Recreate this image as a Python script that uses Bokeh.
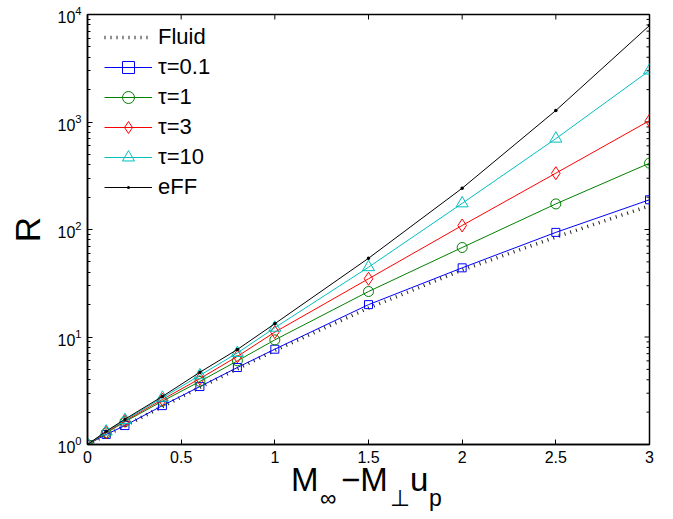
from bokeh.plotting import figure
from bokeh.models import Legend, LegendItem, FixedTicker, LogTicker, Div
from bokeh.layouts import column
from bokeh.embed import file_html
from bokeh.resources import INLINE

# ---- data ----
x_vals = [0, 0.1, 0.2, 0.4, 0.6, 0.8, 1.0, 1.5, 2.0, 2.5, 3.0]
fluid = [1, 1.22, 1.49, 2.25, 3.4, 5.05, 7.5, 18.6, 42, 85, 166]
tau_01 = [1, 1.24, 1.5, 2.3, 3.46, 5.2, 7.7, 20, 44, 94, 189]
tau_1 = [1, 1.28, 1.63, 2.53, 3.86, 6.0, 9.4, 26.5, 68, 173, 414]
tau_3 = [1, 1.3, 1.66, 2.62, 4.1, 6.6, 11.1, 34.8, 109, 334, 1030]
tau_10 = [1, 1.32, 1.69, 2.72, 4.4, 7.1, 12.2, 44.6, 175, 700, 3010]
eff = [1, 1.33, 1.72, 2.8, 4.7, 7.65, 13.3, 54, 242, 1280, 7900]

series_labels = ["Fluid", "τ=0.1", "τ=1", "τ=3", "τ=10", "eFF"]
x_ticks = [0, 0.5, 1, 1.5, 2, 2.5, 3]
x_tick_labels = ["0", "0.5", "1", "1.5", "2", "2.5", "3"]
y_major = [1, 10, 100, 1000, 10000]
y_minor = [m * d for d in [1, 10, 100, 1000] for m in range(2, 10)]
y_title = "R"
# x title pieces: (text, is_subscript)
x_title = [("M", False), ("∞", True), ("−M", False), ("⊥", True), ("u", False), ("p", True)]

FONT = "Liberation Sans"
W, H = 673, 519
FL, FR, FT, FB = 87, 649, 14, 444   # frame edges in page pixels
PH = 470                            # figure height; the x title sits below it

p = figure(width=W, height=PH, x_range=(0, 3), y_range=(1, 1e4),
           y_axis_type="log", output_backend="svg", toolbar_location=None,
           min_border_left=FL, min_border_right=W - FR, min_border_top=FT,
           min_border_bottom=PH - FB)
p.grid.visible = False
p.outline_line_color = "black"
p.outline_line_width = 1.5
p.background_fill_color = "white"
p.border_fill_color = "white"

for ax in [p.xaxis[0], p.yaxis[0]]:
    ax.axis_line_width = 1.5
    ax.axis_line_color = "black"
    ax.major_tick_line_color = "black"
    ax.major_tick_in = 5
    ax.major_tick_out = 0
    ax.minor_tick_in = 3
    ax.minor_tick_out = 0
    ax.major_label_text_font = FONT
    ax.major_label_text_font_size = "16px"
    ax.major_label_text_color = "black"

p.xaxis[0].axis_label = None
p.xaxis[0].ticker = FixedTicker(ticks=x_ticks)
p.xaxis[0].major_label_overrides = dict(zip(x_ticks, x_tick_labels))
p.xaxis[0].minor_tick_line_color = None
p.xaxis[0].major_label_standoff = 6
p.yaxis[0].ticker = LogTicker(num_minor_ticks=10)
p.yaxis[0].major_label_standoff = 6
p.yaxis[0].axis_label = y_title
p.yaxis[0].axis_label_text_font = FONT
p.yaxis[0].axis_label_text_font_size = "35px"
p.yaxis[0].axis_label_text_font_style = "normal"
p.yaxis[0].axis_label_text_color = "black"
p.yaxis[0].axis_label_standoff = 7

# inward ticks on the top and right edges (half of each dash is clipped by the frame)
p.scatter(x_ticks, [1e4] * len(x_ticks), marker="dash", angle=1.5708, size=10,
          line_color="black", line_width=1)
p.scatter([3] * len(y_major), y_major, marker="dash", size=10,
          line_color="black", line_width=1)
p.scatter([3] * len(y_minor), y_minor, marker="dash", size=6,
          line_color="black", line_width=1)

# fluid line (dotted)
r_fluid = p.line(x_vals, fluid, line_color="#222222", line_width=3.5,
                 line_dash="1 5", line_cap="butt")

styles = [
    (tau_01, "#0000FF", "square", 8),
    (tau_1, "#008000", "circle", 10),
    (tau_3, "#FF0000", "diamond", 13),
    (tau_10, "#00BFBF", "triangle", 12),
    (eff, "#000000", "dot", 14),
]
items = [LegendItem(label=series_labels[0], renderers=[r_fluid])]
for (ys, col, mk, sz), lab in zip(styles, series_labels[1:]):
    rl = p.line(x_vals, ys, line_color=col, line_width=1)
    rs = p.scatter(x_vals, ys, marker=mk, size=sz, line_color=col,
                   fill_color=None if mk != "dot" else col, line_width=1)
    items.append(LegendItem(label=lab, renderers=[rl, rs]))

legend = Legend(items=items, location=(17, 242), glyph_width=48, glyph_height=30,
                spacing=0, padding=0, margin=0, label_standoff=6,
                label_text_font=FONT, label_text_font_size="22px",
                label_text_color="black", border_line_color=None,
                background_fill_alpha=0)
p.add_layout(legend)

# x title as real HTML text with subscripts, below the figure
lefts = [291, 320, 341, 390, 410, 429]
spans = []
for (txt, sub), left in zip(x_title, lefts):
    if sub:
        st = f"left:{left}px;top:17px;font-size:23px;line-height:1;"
    else:
        st = f"left:{left}px;top:0px;font-size:33px;line-height:0.6;"
    spans.append(f'<span style="position:absolute;white-space:nowrap;{st}">{txt}</span>')
html = (f'<div style="position:relative;width:{W}px;height:{H - PH}px;'
        f"font-family:'{FONT}';color:black;\">" + "".join(spans) + "</div>")
xlabel = Div(text=html, width=W, height=H - PH, margin=0)

layout = column(p, xlabel, spacing=0)
open("out.html", "w").write(file_html(layout, INLINE))
